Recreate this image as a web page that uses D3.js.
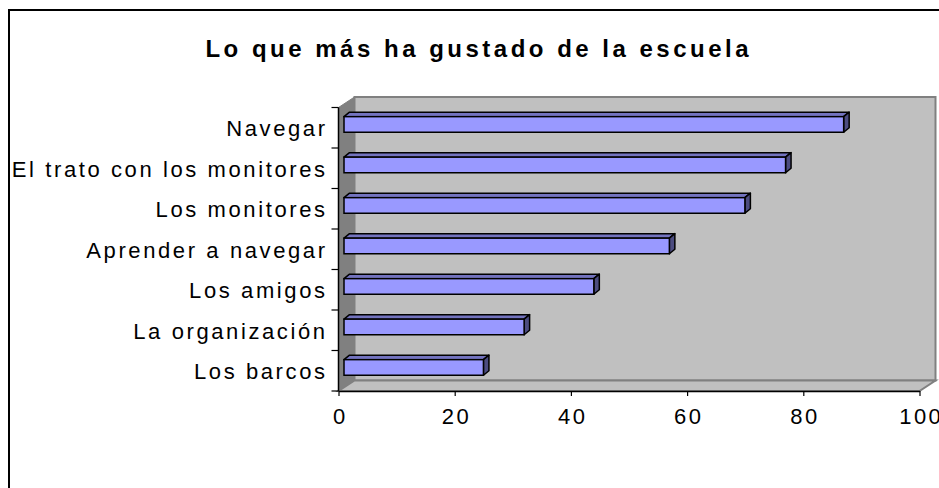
<!DOCTYPE html>
<html>
<head>
<meta charset="utf-8">
<script src="https://cdn.jsdelivr.net/npm/d3@7"></script>
<style>
  html, body { margin: 0; padding: 0; background: #fff; }
  svg { display: block; }
  text { font-family: "Liberation Sans", Arial, sans-serif; fill: #000; }
</style>
</head>
<body>
<svg id="chart" width="939" height="488"></svg>
<script>
// Survey answers: what people liked most about the sailing school
const categories = [
  "Navegar",
  "El trato con los monitores",
  "Los monitores",
  "Aprender a navegar",
  "Los amigos",
  "La organización",
  "Los barcos"
];
const values = [86, 76, 69, 56, 43, 31, 24];
const xTicks = [0, 20, 40, 60, 80, 100];
const title = "Lo que más ha gustado de la escuela";

const svg = d3.select("#chart");

// Chart frame
svg.append("rect")
  .attr("x", 9).attr("y", 10)
  .attr("width", 1000).attr("height", 600)
  .attr("fill", "#fff").attr("stroke", "#000").attr("stroke-width", 2);

// Title
const titleSpacing = 3.5;
svg.append("text")
  .attr("x", 477 + titleSpacing / 2).attr("y", 57)
  .attr("text-anchor", "middle")
  .style("font-size", "24px").style("font-weight", "bold")
  .style("letter-spacing", titleSpacing + "px")
  .text(title);

// Plot geometry (front plane of the 3D box and its depth offset)
const x0 = 338.5, x1 = 919.5, yTop = 107.5, yBot = 391;
const depthX = 16, depthY = -10.5;

const x = d3.scaleLinear().domain([0, 100]).range([x0, x1]);
const y = d3.scaleBand().domain(categories).range([yTop, yBot]);

// Back wall
svg.append("rect")
  .attr("x", x0 + depthX).attr("y", yTop + depthY)
  .attr("width", x1 - x0).attr("height", yBot - yTop)
  .attr("fill", "#c0c0c0").attr("stroke", "#808080").attr("stroke-width", 2);

// Left side wall
svg.append("polygon")
  .attr("points", [
    [x0, yTop], [x0 + depthX, yTop + depthY],
    [x0 + depthX, yBot + depthY], [x0, yBot]
  ].map(p => p.join(",")).join(" "))
  .attr("fill", "#808080").attr("stroke", "#808080").attr("stroke-width", 1);

// Floor
svg.append("polygon")
  .attr("points", [
    [x0, yBot], [x0 + depthX, yBot + depthY],
    [x1 + depthX, yBot + depthY], [x1, yBot]
  ].map(p => p.join(",")).join(" "))
  .attr("fill", "#c0c0c0").attr("stroke", "#808080").attr("stroke-width", 2);

// Bars drawn as 3D boxes
const shiftX = 5.5, shiftY = -3.3;   // bar front plane sits inside the box
const bdx = 5.5, bdy = -4.5;         // bar depth
const barH = y.bandwidth() * 0.385;
const zero = x(0) + shiftX;

const bars = svg.append("g").selectAll("g")
  .data(categories.map((c, i) => ({ c, v: values[i] })))
  .join("g");

bars.each(function(d) {
  const g = d3.select(this);
  const yt = y(d.c) + (y.bandwidth() - barH) / 2 + shiftY;
  const yb = yt + barH;
  const xr = x(d.v) + shiftX;
  const pts = a => a.map(p => p.join(",")).join(" ");
  // top face
  g.append("polygon")
    .attr("points", pts([[zero, yt], [zero + bdx, yt + bdy], [xr + bdx, yt + bdy], [xr, yt]]))
    .attr("fill", "#7373bf").attr("stroke", "#000").attr("stroke-width", 1.5)
    .attr("stroke-linejoin", "round");
  // side face
  g.append("polygon")
    .attr("points", pts([[xr, yt], [xr + bdx, yt + bdy], [xr + bdx, yb + bdy], [xr, yb]]))
    .attr("fill", "#4c4c80").attr("stroke", "#000").attr("stroke-width", 1.5)
    .attr("stroke-linejoin", "round");
  // front face
  g.append("rect")
    .attr("x", zero).attr("y", yt)
    .attr("width", xr - zero).attr("height", barH)
    .attr("fill", "#9999ff").attr("stroke", "#000").attr("stroke-width", 1.5);
});

// Category axis
const yAxis = svg.append("g");
yAxis.append("line")
  .attr("x1", x0).attr("x2", x0).attr("y1", yTop).attr("y2", yBot)
  .attr("stroke", "#000").attr("stroke-width", 1.5);
const bounds = categories.map(c => y(c)).concat([yBot]);
yAxis.selectAll("line.tick").data(bounds).join("line")
  .attr("class", "tick")
  .attr("x1", x0 - 7).attr("x2", x0)
  .attr("y1", d => d).attr("y2", d => d)
  .attr("stroke", "#000").attr("stroke-width", 1.2);
const labelSpacing = 2.6;
yAxis.selectAll("text").data(categories).join("text")
  .attr("x", 325 + labelSpacing)
  .attr("y", d => y(d) + y.bandwidth() / 2 + 8.5)
  .attr("text-anchor", "end")
  .style("font-size", "22px")
  .style("letter-spacing", labelSpacing + "px")
  .text(d => d);

// Value axis
const tickSpacing = 2.5;
const xAxis = svg.append("g").attr("transform", `translate(0,${yBot})`)
  .call(d3.axisBottom(x).tickValues(xTicks).tickSize(5).tickSizeOuter(0));
xAxis.select(".domain").attr("stroke", "#000").attr("stroke-width", 1.5);
xAxis.selectAll(".tick line").attr("stroke", "#000").attr("stroke-width", 1.2);
xAxis.selectAll(".tick text")
  .attr("y", 33).attr("dy", 0)
  .attr("x", tickSpacing / 2)
  .style("font-size", "22px")
  .style("letter-spacing", tickSpacing + "px")
  .attr("font-family", null);
</script>
</body>
</html>
